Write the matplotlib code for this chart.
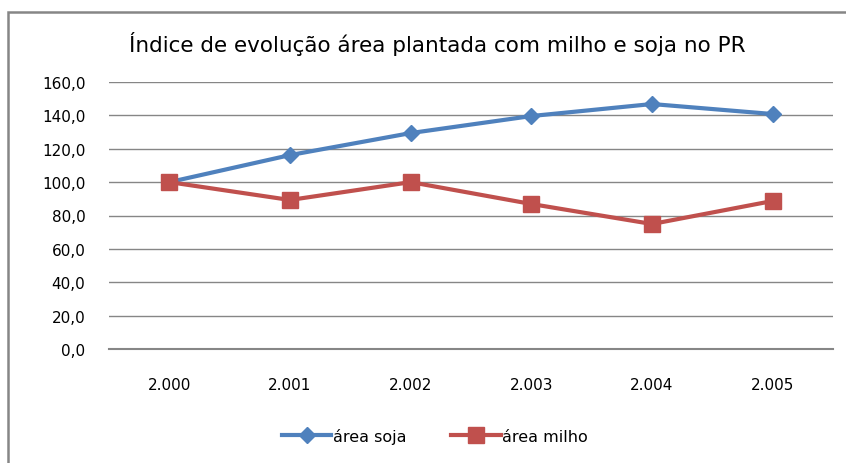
import matplotlib.pyplot as plt
from matplotlib.patches import Rectangle

anos = ['2.000', '2.001', '2.002', '2.003', '2.004', '2.005']
soja = [100.0, 116.2, 129.4, 139.6, 146.8, 140.8]
milho = [100.0, 89.3, 100.0, 86.9, 74.9, 88.7]
yticks = [0, 20, 40, 60, 80, 100, 120, 140, 160]

plt.rcParams['font.family'] = ['DejaVu Sans']

fig = plt.figure(figsize=(8.46, 4.64), dpi=100)
# moldura do gráfico (cortada à direita e embaixo, como no original)
fig.patches.append(Rectangle((7.5/846, -0.05), 1.1, 1 - 12.5/464 + 0.05,
                             transform=fig.transFigure, fill=False,
                             edgecolor='#868686', lw=1.8))
ax = fig.add_axes([109/846, 1 - 350/464, 724/846, 267/464])

x = range(len(anos))
ax.plot(x, soja, color='#4F81BD', lw=3, marker='D', ms=8, label='área soja')
ax.plot(x, milho, color='#C0504D', lw=3, marker='s', ms=12, label='área milho')

ax.set_xlim(-0.5, len(anos) - 0.5)
ax.set_ylim(0, 160)
ax.set_yticks(yticks)
ax.set_yticklabels([f'{v:.1f}'.replace('.', ',') for v in yticks], fontsize=11)
ax.set_xticks(list(x))
ax.set_xticklabels(anos, fontsize=11)
ax.tick_params(length=0)
ax.tick_params(axis='y', pad=17)
ax.tick_params(axis='x', pad=20)
ax.grid(axis='y', color='#868686', lw=1)
ax.set_axisbelow(True)
for s in ['top', 'right', 'left']:
    ax.spines[s].set_visible(False)
ax.spines['bottom'].set_color('#868686')
ax.spines['bottom'].set_linewidth(1.5)

fig.text(437/846, 1 - 44/464, 'Índice de evolução área plantada com milho e soja no PR',
         ha='center', va='center', fontsize=15.5)
fig.legend(loc='center', bbox_to_anchor=(435/846, 1 - 437/464), ncol=2,
           frameon=False, fontsize=11.5, handlelength=3.1, columnspacing=2.8,
           handletextpad=0.1)

plt.savefig('out.png', dpi=100)
